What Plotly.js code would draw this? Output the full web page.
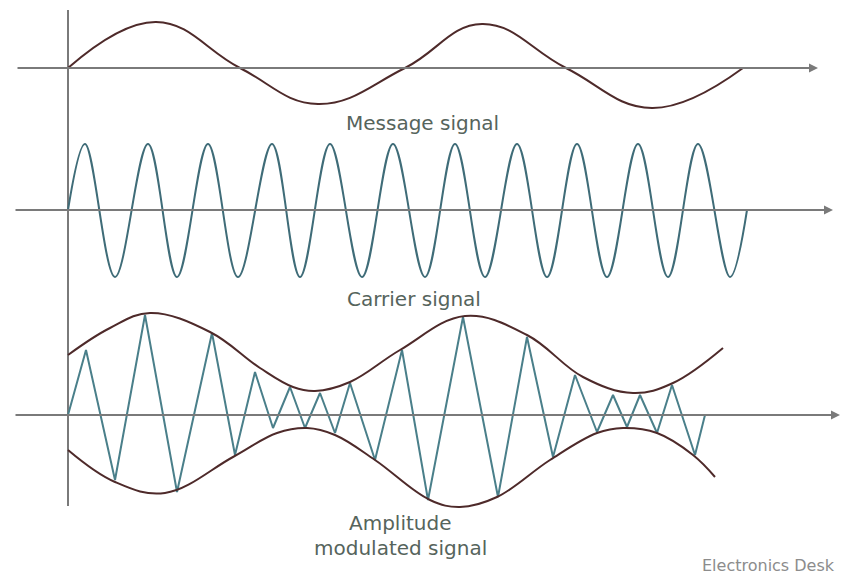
<!DOCTYPE html>
<html>
<head>
<meta charset="utf-8">
<script src="https://cdn.plot.ly/plotly-3.0.1.min.js"></script>
<style>
  html, body { margin: 0; padding: 0; background: #ffffff; }
  #chart { width: 850px; height: 578px; }
</style>
</head>
<body>
<div id="chart"></div>
<script>
// ---- Message signal (extrema and zero crossings) ----
const msgT = [68, 156, 240, 318, 405, 482, 566, 652, 743];
const msgV = [0, 46, 0, -36, 0, 44, 0, -40, 0];

// ---- Carrier signal (start, alternating peaks / troughs, end) ----
const carT = [68, 85, 115, 148, 177, 208, 238, 272, 300, 330, 362, 393, 425,
              455, 485, 517, 547, 577, 607, 638, 668, 698, 730, 747];
const carV = [0, 66, -67, 66, -67, 66, -67, 66, -67, 66, -67, 66, -67,
              66, -67, 66, -67, 66, -67, 66, -67, 66, -67, 0];

// ---- Amplitude modulated signal (zig-zag vertices) ----
const amT = [68, 86, 115, 145, 177, 212, 235, 255, 273, 290, 305, 320, 335, 350,
             375, 402, 428, 463, 498, 527, 553, 575, 597, 613, 627, 640, 657, 672, 695, 705];
const amV = [0, 65, -65, 100, -77, 82, -40, 43, -13, 28, -13, 22, -18, 32,
             -45, 65, -85, 98, -82, 78, -42, 40, -17, 20, -12, 20, -18, 30, -40, 0];

// ---- Envelopes ----
const upperT = [68, 110, 150, 210, 260, 293, 315, 350, 400, 465, 527, 583, 633, 673, 723];
const upperV = [60, 87, 102, 83, 47, 28, 24, 33, 65, 99, 80, 38, 22, 32, 67];
const lowerT = [68, 115, 165, 233, 277, 307, 335, 375, 430, 460, 497, 550, 597, 623, 657, 693, 715];
const lowerV = [-35, -67, -78, -42, -18, -13, -20, -45, -85, -92, -82, -45, -18, -13, -18, -40, -62];

// ---- Labels ----
const labelMessage = "Message signal";
const labelCarrier = "Carrier signal";
const labelAM1 = "Amplitude";
const labelAM2 = "modulated signal";
const credit = "Electronics Desk";

const brown = "#4e2a2a";
const teal = "#3f6c78";
const tealAM = "#4a7f8a";
const axisGray = "#7a7a7a";
const textCol = "#56645c";

const traces = [
  { x: msgT, y: msgV, xaxis: "x", yaxis: "y", mode: "lines",
    line: { color: brown, width: 2, shape: "spline", smoothing: 1.2 }, hoverinfo: "skip" },
  { x: carT, y: carV, xaxis: "x", yaxis: "y2", mode: "lines",
    line: { color: teal, width: 2, shape: "spline", smoothing: 1.0 }, hoverinfo: "skip" },
  { x: amT, y: amV, xaxis: "x", yaxis: "y3", mode: "lines",
    line: { color: tealAM, width: 2 }, hoverinfo: "skip" },
  { x: upperT, y: upperV, xaxis: "x", yaxis: "y3", mode: "lines",
    line: { color: brown, width: 2, shape: "spline", smoothing: 1.1 }, hoverinfo: "skip" },
  { x: lowerT, y: lowerV, xaxis: "x", yaxis: "y3", mode: "lines",
    line: { color: brown, width: 2, shape: "spline", smoothing: 1.1 }, hoverinfo: "skip" }
];

function axisArrow(yref, x0, x1) {
  return { xref: "x", yref: yref, axref: "x", ayref: yref,
           x: x1, y: 0, ax: x0, ay: 0, text: "", showarrow: true,
           arrowhead: 2, arrowsize: 0.9, arrowwidth: 2, arrowcolor: axisGray };
}

function label(text, x, yPix, size, color) {
  return { xref: "x", yref: "paper", x: x, y: 1 - yPix / 578, text: text,
           showarrow: false, xanchor: "center", yanchor: "middle",
           font: { family: "DejaVu Sans", size: size, color: color } };
}

const layout = {
  width: 850, height: 578,
  margin: { l: 0, r: 0, t: 0, b: 0 },
  paper_bgcolor: "#ffffff", plot_bgcolor: "#ffffff",
  showlegend: false,
  xaxis: { range: [0, 850], domain: [0, 1], visible: false, fixedrange: true },
  yaxis:  { domain: [0.77509, 1], range: [-62, 68], visible: false, fixedrange: true },
  yaxis2: { domain: [0.48097, 0.77509], range: [-90, 80], visible: false, fixedrange: true },
  yaxis3: { domain: [0, 0.48097], range: [-163, 115], visible: false, fixedrange: true },
  shapes: [
    { type: "line", xref: "x", yref: "paper", x0: 68, x1: 68,
      y0: 1 - 506 / 578, y1: 1 - 10 / 578, line: { color: axisGray, width: 2 }, layer: "below" }
  ],
  annotations: [
    axisArrow("y", 16, 818),
    axisArrow("y2", 14, 833),
    axisArrow("y3", 14, 840),
    label(labelMessage, 422, 123, 20, textCol),
    label(labelCarrier, 414, 299, 20, textCol),
    label(labelAM1, 400, 523, 20, textCol),
    label(labelAM2, 400, 548, 20, textCol),
    label(credit, 768, 565, 16, "#8c8c8c")
  ]
};

Plotly.newPlot("chart", traces, layout, { staticPlot: true, displayModeBar: false });
</script>
</body>
</html>
